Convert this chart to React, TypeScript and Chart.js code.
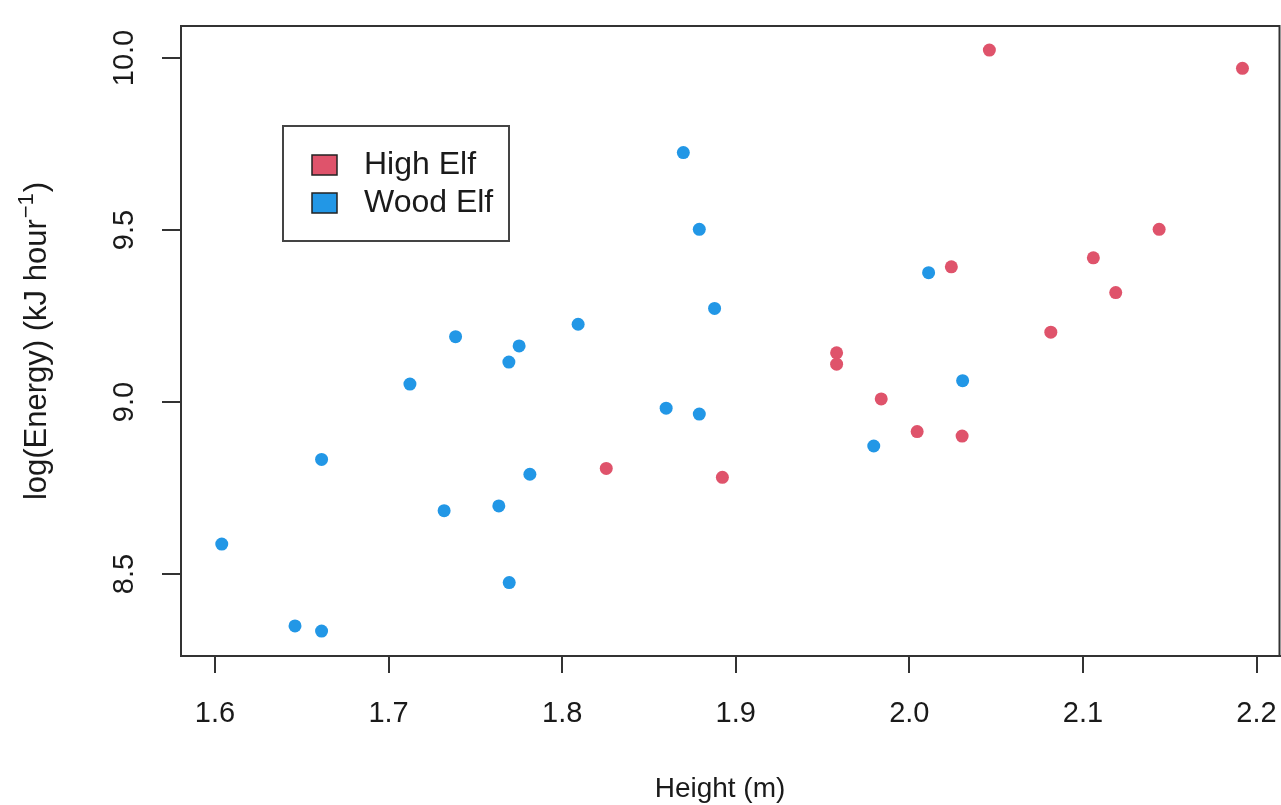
import React, { useEffect, useRef } from "react";
import { Chart, registerables } from "chart.js";

Chart.register(...registerables);

const seriesNames = ["High Elf", "Wood Elf"];
const seriesColors = ["#DF536B", "#2297E6"];

const highElfHeight = [1.8254, 1.8923, 1.9581, 1.9581, 1.9838, 2.0045, 2.0304, 2.0242, 2.0461, 2.0815, 2.106, 2.1189, 2.1439, 2.1919];
const highElfEnergy = [8.807, 8.781, 9.143, 9.11, 9.009, 8.914, 8.901, 9.393, 10.023, 9.203, 9.419, 9.318, 9.502, 9.97];

const woodElfHeight = [1.6039, 1.6461, 1.6614, 1.6614, 1.7123, 1.7386, 1.732, 1.7635, 1.7695, 1.7693, 1.7752, 1.7814, 1.8092, 1.8599, 1.8698, 1.879, 1.879, 1.8878, 1.9795, 2.0111, 2.0307];
const woodElfEnergy = [8.587, 8.349, 8.334, 8.833, 9.052, 9.19, 8.684, 8.698, 8.475, 9.116, 9.163, 8.79, 9.226, 8.982, 9.725, 9.502, 8.965, 9.272, 8.872, 9.376, 9.062];

const xTicks = [1.6, 1.7, 1.8, 1.9, 2.0, 2.1, 2.2];
const yTicks = [8.5, 9.0, 9.5, 10.0];

const xTitle = "Height (m)";
const yTitleMain = "log(Energy) (kJ hour";
const yTitleSup = "\u22121";
const yTitleEnd = ")";

const FONT = "'Liberation Sans', Arial, Helvetica, sans-serif";
const INK = "#1a1a1a";
const CANVAS_W = 1286;

const boxPlugin = {
  id: "rbox",
  afterDraw(chart: any) {
    const { ctx, chartArea } = chart;
    const { left, top, right, bottom } = chartArea;
    ctx.save();
    ctx.strokeStyle = "#333333";
    ctx.lineWidth = 2;
    ctx.strokeRect(left, top, right - left, bottom - top);

    // y tick labels, rotated (R default)
    const ys = chart.scales.y;
    ctx.fillStyle = INK;
    ctx.font = `29px ${FONT}`;
    ctx.textAlign = "center";
    ctx.textBaseline = "alphabetic";
    ys.ticks.forEach((t: any) => {
      const py = ys.getPixelForValue(t.value);
      ctx.save();
      ctx.translate(133, py);
      ctx.rotate(-Math.PI / 2);
      ctx.fillText(Number(t.value).toFixed(1), 0, 0);
      ctx.restore();
    });

    // y title with superscript
    ctx.save();
    ctx.translate(46, 341);
    ctx.rotate(-Math.PI / 2);
    ctx.textAlign = "left";
    const mainFont = `31px ${FONT}`;
    const supFont = `22px ${FONT}`;
    ctx.font = mainFont;
    const wm = ctx.measureText(yTitleMain).width;
    const wc = ctx.measureText(yTitleEnd).width;
    ctx.font = supFont;
    const ws = ctx.measureText(yTitleSup).width;
    let sx = -(wm + ws + wc + 2) / 2;
    ctx.font = mainFont;
    ctx.fillText(yTitleMain, sx, 0);
    sx += wm;
    ctx.font = supFont;
    ctx.fillText(yTitleSup, sx + 1, -13);
    sx += ws + 2;
    ctx.font = mainFont;
    ctx.fillText(yTitleEnd, sx, 0);
    ctx.restore();

    // x title
    ctx.font = `28px ${FONT}`;
    ctx.textAlign = "center";
    ctx.fillText(xTitle, 720, 797);

    // legend
    const lx = 283, ly = 126, lw = 226, lh = 115;
    ctx.fillStyle = "#ffffff";
    ctx.fillRect(lx, ly, lw, lh);
    ctx.strokeStyle = "#444444";
    ctx.lineWidth = 2;
    ctx.strokeRect(lx, ly, lw, lh);
    chart.data.datasets.forEach((ds: any, i: number) => {
      const cy = 165 + i * 38;
      ctx.fillStyle = ds.backgroundColor;
      ctx.fillRect(312, cy - 10, 25, 20);
      ctx.strokeStyle = "#222222";
      ctx.lineWidth = 1.5;
      ctx.strokeRect(312, cy - 10, 25, 20);
      ctx.fillStyle = INK;
      ctx.textAlign = "left";
      ctx.textBaseline = "middle";
      ctx.font = `32px ${FONT}`;
      ctx.fillText(ds.label, 364, cy);
    });
    ctx.restore();
  },
};

export default function App() {
  const ref = useRef<HTMLCanvasElement | null>(null);

  useEffect(() => {
    if (!ref.current) return;
    const mk = (xs: number[], ys: number[]) => xs.map((x, i) => ({ x, y: ys[i] }));
    const chart = new Chart(ref.current, {
      type: "scatter",
      data: {
        datasets: [
          {
            label: seriesNames[0],
            data: mk(highElfHeight, highElfEnergy),
            backgroundColor: seriesColors[0],
            borderColor: seriesColors[0],
            borderWidth: 0,
            pointRadius: 6.5,
          },
          {
            label: seriesNames[1],
            data: mk(woodElfHeight, woodElfEnergy),
            backgroundColor: seriesColors[1],
            borderColor: seriesColors[1],
            borderWidth: 0,
            pointRadius: 6.5,
          },
        ],
      },
      options: {
        animation: false,
        responsive: false,
        devicePixelRatio: 1,
        layout: { padding: { top: 26, right: 1, left: 0, bottom: 0 } },
        plugins: { legend: { display: false }, tooltip: { enabled: false } },
        scales: {
          x: {
            type: "linear",
            min: 1.58042,
            max: 2.21324,
            afterFit: (s: any) => {
              s.height = 149;
              s.paddingLeft = 0;
              s.paddingRight = 0;
            },
            afterBuildTicks: (s: any) => {
              s.ticks = xTicks.map((v) => ({ value: v }));
            },
            ticks: {
              font: { family: FONT, size: 29 },
              color: INK,
              padding: 24,
              maxRotation: 0,
              autoSkip: false,
              callback: (v: any) => Number(v).toFixed(1),
            },
            grid: {
              drawOnChartArea: false,
              drawTicks: true,
              tickLength: 17,
              color: "#333333",
              lineWidth: 2,
            },
            border: { display: true, color: "#333333", width: 2 },
          },
          y: {
            type: "linear",
            min: 8.2616,
            max: 10.093,
            afterFit: (s: any) => {
              s.width = 181;
              s.paddingTop = 0;
              s.paddingBottom = 0;
            },
            afterBuildTicks: (s: any) => {
              s.ticks = yTicks.map((v) => ({ value: v }));
            },
            ticks: { display: false },
            grid: {
              drawOnChartArea: false,
              drawTicks: true,
              tickLength: 19,
              color: "#333333",
              lineWidth: 2,
            },
            border: { display: true, color: "#333333", width: 2 },
          },
        },
      },
      plugins: [boxPlugin],
    });
    return () => chart.destroy();
  }, []);

  return (
    <div style={{ position: "fixed", left: 0, top: 0, width: 1281, height: 805, overflow: "hidden", background: "#ffffff" }}>
      <canvas ref={ref} width={CANVAS_W} height={805} style={{ width: CANVAS_W, height: 805, display: "block" }} />
    </div>
  );
}
